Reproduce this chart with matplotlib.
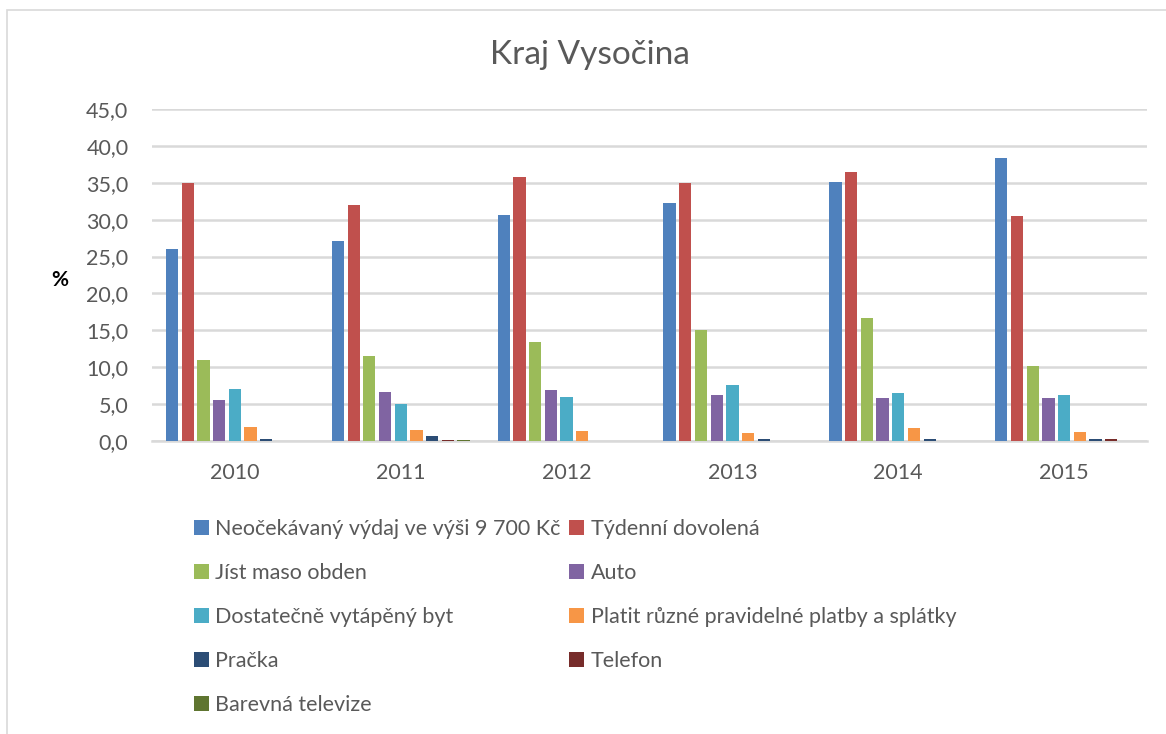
import matplotlib.pyplot as plt
import matplotlib.patches as patches
import numpy as np

plt.rcParams['font.family'] = ['Lato', 'DejaVu Sans']

years = ['2010', '2011', '2012', '2013', '2014', '2015']
series_names = [
    'Neočekávaný výdaj ve výši 9 700 Kč',
    'Týdenní dovolená',
    'Jíst maso obden',
    'Auto',
    'Dostatečně vytápěný byt',
    'Platit různé pravidelné platby a splátky',
    'Pračka',
    'Telefon',
    'Barevná televize',
]
vydaj = [26.0, 27.1, 30.7, 32.2, 35.1, 38.3]
dovolena = [35.0, 32.0, 35.8, 35.0, 36.5, 30.5]
maso = [11.0, 11.5, 13.4, 15.1, 16.7, 10.2]
auto = [5.5, 6.6, 6.9, 6.2, 5.8, 5.8]
byt = [7.1, 5.0, 6.0, 7.6, 6.5, 6.2]
platby = [1.85, 1.5, 1.4, 1.1, 1.7, 1.2]
pracka = [0.3, 0.65, 0.0, 0.25, 0.25, 0.25]
telefon = [0.0, 0.1, 0.0, 0.0, 0.0, 0.25]
televize = [0.0, 0.1, 0.0, 0.0, 0.0, 0.0]
series = [vydaj, dovolena, maso, auto, byt, platby, pracka, telefon, televize]

colors = ['#4F81BD', '#C0504D', '#9BBB59', '#8064A2', '#4BACC6',
          '#F79646', '#2C4D75', '#772C2A', '#5F7530']
text_col = '#595959'
grid_col = '#D9D9D9'

fig = plt.figure(figsize=(11.66, 7.34), dpi=100)
ax = fig.add_axes([152 / 1166, 1 - 441 / 734, 995 / 1166, 332 / 734])

# chart border
fig.patches.append(patches.Rectangle((7 / 1166, -0.1), 1.2, 0.1 + 724 / 734,
                                     transform=fig.transFigure, fill=False,
                                     edgecolor='#D9D9D9', linewidth=1.2))

x = np.arange(len(years))
pitch = 0.0947
bw = 0.074
handles = []
for i, (vals, col) in enumerate(zip(series, colors)):
    off = (i - 4) * pitch
    b = ax.bar(x + off, vals, bw, color=col, zorder=3, label=series_names[i])
    handles.append(b)

ax.set_xlim(-0.5, 5.5)
ax.set_ylim(0, 45)
ax.set_yticks(np.arange(0, 46, 5))
ax.set_yticklabels([f'{v:.1f}'.replace('.', ',') for v in np.arange(0, 46, 5)])
ax.set_xticks(x)
ax.set_xticklabels(years)
ax.tick_params(length=0, labelsize=15.5, colors=text_col)
ax.tick_params(axis='y', pad=17)
ax.tick_params(axis='x', pad=16)
ax.grid(axis='y', color=grid_col, linewidth=1.8, zorder=0)
for s in ['top', 'right', 'left']:
    ax.spines[s].set_visible(False)
ax.spines['bottom'].set_color(grid_col)
ax.spines['bottom'].set_linewidth(1.8)

fig.text(590 / 1166, 1 - 55 / 734, 'Kraj Vysočina', ha='center', va='center',
         fontsize=24, color=text_col)
fig.text(60 / 1166, 1 - 280 / 734, '%', ha='center', va='center',
         fontsize=15, fontweight='bold', color='black')

order = [0, 2, 4, 6, 8, 1, 3, 5, 7]
leg = fig.legend([handles[k] for k in order], [series_names[k] for k in order],
                 ncol=2, loc='upper left', bbox_to_anchor=(185 / 1166, 1 - 510 / 734),
                 frameon=False, fontsize=15.5, handlelength=0.7, handleheight=0.7,
                 handletextpad=0.3, labelspacing=1.12, columnspacing=0.4,
                 borderaxespad=0)
for t in leg.get_texts():
    t.set_color(text_col)

plt.savefig('out.png', dpi=100, facecolor='white')
